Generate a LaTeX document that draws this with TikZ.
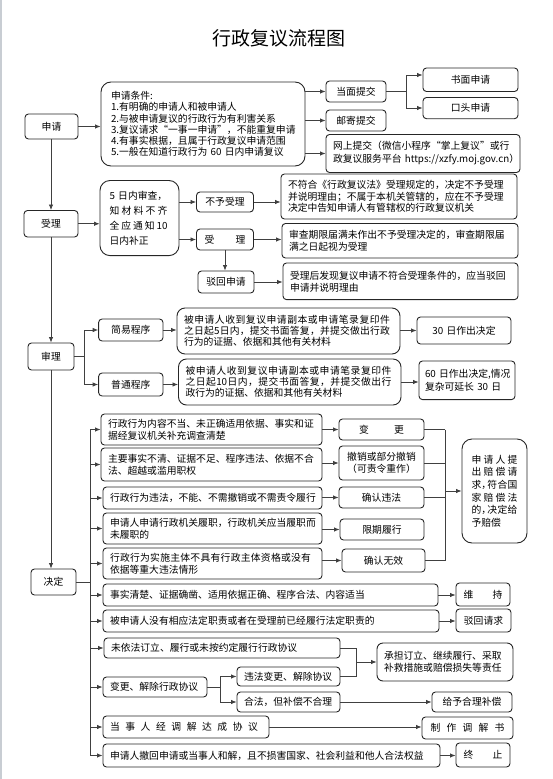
\documentclass[tikz,border=0pt]{standalone}
\usepackage{fontspec}
\setmainfont{Noto Sans CJK SC}
\setsansfont{Noto Sans CJK SC}
\usetikzlibrary{arrows.meta}
\definecolor{edgegray}{RGB}{200,205,211}
\def\jstx#1{#1\futurelet\jstnext\jsty}
\def\jsty{\ifx\jstnext\relax\else\hskip0pt plus 1fil\expandafter\jstx\fi}
\newcommand\jst[2]{\makebox[#1][s]{\jstx#2\relax}}
\newcommand\bx[7][]{%
  \pgfmathsetmacro\bxw{#5-#3}%
  \pgfmathsetmacro\bxh{#6-#4}%
  \pgfmathsetmacro\bxt{#5-#3-14}%
  \node[bx,minimum width=\bxw pt,minimum height=\bxh pt,text width=\bxt pt,#1] (#2) at ({(#3+#5)/2},{(#4+#6)/2}) {#7};}
\tikzset{
  bx/.style={draw=black!85, line width=0.9pt, rounded corners=3.5pt, inner xsep=7pt, inner ysep=1pt,
    align=left, font=\fontsize{9.8}{12}\selectfont},
  ctr/.style={align=center},
  ln/.style={draw=black!75, line width=0.8pt},
  arr/.style={ln, -{Latex[length=5.5pt,width=4.5pt]}},
}
\begin{document}
\begin{tikzpicture}[x=1pt,y=-1pt]
\useasboundingbox (0,0) rectangle (552,779);
\fill[edgegray] (0,0) rectangle (1.8,779);
\node[font=\fontsize{19}{22}\selectfont] (title) at (279,38) {行政复议流程图};

% ---------- 申请 ----------
\bx[ctr]{sq}{25}{114}{78}{139}{申请}
\bx[rounded corners=10pt,inner xsep=10pt,text width=184pt,font=\fontsize{9.8}{11.3}\selectfont]{cond}{101}{82}{305}{166}{申请条件:\\1.有明确的申请人和被申请人\\2.与被申请复议的行政行为有利害关系\\3.复议请求“一事一申请”，不能重复申请\\4.有事实根据，且属于行政复议申请范围\\5.一般在知道行政行为 60 日内申请复议}
\bx[ctr]{dm}{326}{81}{386}{102}{当面提交}
\bx[ctr]{yj}{326}{110}{386}{131}{邮寄提交}
\bx[inner xsep=7pt,text width=180pt,font=\fontsize{9.8}{13}\selectfont]{ws}{326}{134.5}{520}{172.5}{\mbox{网上提交（微信小程序“掌上复议”或行}\\\mbox{政复议服务平台~https://xzfy.moj.gov.cn）}}
\bx[ctr]{sm}{423}{68}{518}{91.5}{书面申请}
\bx[ctr]{kt}{423}{97.5}{518}{118.7}{口头申请}
\coordinate (j1) at (406,75);
\coordinate (j2) at (406,108);
\draw[arr] (sq.east) -- (sq.east -| cond.west);
\draw[arr] (cond.east |- dm.west) -- (dm.west);
\draw[arr] (cond.east |- yj.west) -- (yj.west);
\draw[arr] (cond.east |- ws.west) -- (ws.west);
\draw[ln] (dm.east) -- (dm.east -| j1);
\draw[ln] (j1) -- (j2);
\draw[arr] (j1) -- (j1 -| sm.west);
\draw[arr] (j2) -- (j2 -| kt.west);

% ---------- 受理 ----------
\bx[ctr]{sl}{24}{210.5}{78}{237}{受理}
\bx[rounded corners=10pt,inner xsep=0pt,text width=60pt,font=\fontsize{9.8}{15}\selectfont]{sc}{100}{180.5}{179}{255.6}{5 日内审查，\\\jst{58pt}{知材料不齐}\\\jst{58pt}{全应通知 {10}}\\日内补正}
\bx[ctr]{byl}{196.5}{192}{253.5}{212}{不予受理}
\bx[ctr]{slb}{196.5}{229}{253.5}{250}{\jst{41pt}{受理}}
\bx[ctr]{bh}{198}{271}{254}{293}{驳回申请}
\bx[font=\fontsize{9.8}{11.7}\selectfont]{t1}{281}{174}{517}{219}{不符合《行政复议法》受理规定的，决定不予受理\\并说明理由；不属于本机关管辖的，应在不予受理\\决定中告知申请人有管辖权的行政复议机关}
\bx{t2}{282}{223.5}{518}{258}{审查期限届满未作出不予受理决定的，审查期限届\\满之日起视为受理}
\bx{t3}{283}{263}{518}{299.6}{受理后发现复议申请不符合受理条件的，应当驳回\\申请并说明理由}
\draw[arr] (sl.north |- sq.south) -- (sl.north);
\draw[arr] (sl.east) -- (sl.east -| sc.west);
\draw[arr] (sc.east |- byl.west) -- (byl.west);
\draw[arr] (sc.east |- slb.west) -- (slb.west);
\draw[arr] (slb.south) -- (slb.south |- bh.north);
\draw[arr] (byl.east) -- (byl.east -| t1.west);
\draw[arr] (slb.east) -- (slb.east -| t2.west);
\draw[arr] (bh.east) -- (bh.east -| t3.west);

% ---------- 审理 ----------
\bx[ctr]{shl}{28}{343}{74}{370}{审理}
\bx[ctr]{jy}{98.6}{319}{163}{341}{简易程序}
\bx[ctr]{pt}{98.6}{373}{163}{396}{普通程序}
\bx[rounded corners=8pt,font=\fontsize{9.8}{11.2}\selectfont]{jyt}{177}{308}{400}{354}{\jst{206pt}{被申请人收到复议申请副本或申请笔录复印件}\\\jst{206pt}{之日起 5 日内，提交书面答复，并提交做出行政}\\行为的证据、依据和其他有关材料}
\bx[rounded corners=8pt,font=\fontsize{9.8}{11.2}\selectfont]{ptt}{178.5}{359}{401}{405}{\jst{206pt}{被申请人收到复议申请副本或申请笔录复印件}\\\jst{206pt}{之日起 {10} 日内，提交书面答复，并提交做出行}\\政行为的证据、依据和其他有关材料}
\bx[ctr]{d30}{417}{317}{511}{344}{30 日作出决定}
\bx[inner xsep=6pt,text width=84pt,font=\fontsize{9.8}{13}\selectfont]{d60}{419}{361}{515}{399.6}{\mbox{60~日作出决定,情况}\\\mbox{复杂可延长~30~日}}
\coordinate (b1) at (84.5,356.5);
\draw[arr] (shl.north |- sl.south) -- (shl.north);
\draw[ln] (shl.east) -- (shl.east -| b1);
\draw[arr] (b1) |- (jy.west);
\draw[arr] (b1) |- (pt.west);
\draw[arr] (jy.east) -- (jy.east -| jyt.west);
\draw[arr] (jyt.east |- d30.west) -- (d30.west);
\draw[arr] (pt.east) -- (pt.east -| ptt.west);
\draw[arr] (ptt.east) -- (ptt.east -| d60.west);

% ---------- 决定 ----------
\bx[ctr]{jd}{31}{569}{76}{595}{决定}
\draw[arr] (shl.south) -- (shl.south |- jd.north);
\bx{r1}{101}{414}{322}{445}{行政行为内容不当、未正确适用依据、事实和证\\据经复议机关补充调查清楚}
\bx{r2}{101}{448}{322}{481}{主要事实不清、证据不足、程序违法、依据不合\\法、超越或滥用职权}
\bx{r3}{103}{487}{322}{509}{行政行为违法，不能、不需撤销或不需责令履行}
\bx{r4}{103}{513}{322}{544}{申请人申请行政机关履职，行政机关应当履职而\\未履职的}
\bx{r5}{103}{548}{322}{579}{\jst{201pt}{行政行为实施主体不具有行政主体资格或没有}\\依据等重大违法情形}
\bx[ctr]{v1}{339}{419}{424}{440}{\jst{45pt}{变更}}
\bx[ctr]{v2}{339}{446}{424}{480}{撤销或部分撤销\\（可责令重作）}
\bx[ctr]{v3}{339}{487}{424}{508}{确认违法}
\bx[ctr]{v4}{340}{519}{424}{540}{限期履行}
\bx[ctr]{v5}{342}{549}{425}{572}{确认无效}
\bx[rounded corners=10pt,inner xsep=0pt,text width=46pt,font=\fontsize{9.8}{12.6}\selectfont]{pc}{462}{439}{527}{543}{\jst{46pt}{申请人提}\\\jst{46pt}{出赔偿请}\\\jst{46pt}{{求，\kern-4pt}符合国}\\\jst{46pt}{家赔偿法}\\\jst{46pt}{{的，\kern-4pt}决定给}\\予赔偿}

\bx{r6}{103}{584}{438}{606}{事实清楚、证据确凿、适用依据正确、程序合法、内容适当}
\bx[ctr]{wc}{456}{583}{510}{606}{\jst{39pt}{维持}}
\bx{r7}{103}{610}{439}{632}{被申请人没有相应法定职责或者在受理前已经履行法定职责的}
\bx[ctr]{bq}{456}{609}{511}{632}{驳回请求}
\bx{r8}{104}{638}{340}{658}{\jst{184pt}{未依法订立、履行或未按约定履行行政协议}}
\bx{r9}{103}{677}{207}{697}{变更、解除行政协议}
\bx{wf}{237}{667}{340}{686}{违法变更、解除协议}
\bx{hf}{237}{692}{340}{712}{合法，但补偿不合理}
\bx[rounded corners=6pt]{cd}{377}{643}{513}{681}{承担订立、继续履行、采取\\补救措施或赔偿损失等责任}
\bx[ctr]{gy}{432}{692}{512}{712}{给予合理补偿}
\bx{r10}{103}{716}{269}{738}{\jst{148pt}{当事人经调解达成协议}}
\bx[ctr]{zz}{422}{717}{513}{739}{\jst{74pt}{制作调解书}}
\bx{r11}{103}{744}{440}{767}{申请人撤回申请或当事人和解，且不损害国家、社会利益和他人合法权益}
\bx[ctr]{zj}{456}{743}{510}{767}{\jst{39pt}{终止}}

% left bracket of 决定
\coordinate (bvt) at (90,429.5);
\coordinate (bvb) at (90,755.5);
\draw[ln] (jd.east) -- (jd.east -| bvt);
\draw[ln] (bvt) -- (bvb);
\foreach \r in {r1,r2,r3,r4,r5,r6,r7,r8,r9,r10,r11}
  \draw[arr] (bvt |- \r.west) -- (\r.west);
% results
\draw[arr] (r1.east |- v1.west) -- (v1.west);
\draw[arr] (r2.east |- v2.west) -- (v2.west);
\draw[arr] (r3.east |- v3.west) -- (v3.west);
\draw[arr] (r4.east |- v4.west) -- (v4.west);
\draw[arr] (r5.east |- v5.west) -- (v5.west);
\coordinate (rbt) at (445,429.5);
\draw[ln] (v1.east) -- (v1.east -| rbt);
\draw[ln] (v2.east) -- (v2.east -| rbt);
\draw[ln] (v3.east) -- (v3.east -| rbt);
\draw[ln] (v5.east) -- (v5.east -| rbt);
\draw[ln] (v1.east -| rbt) -- (v5.east -| rbt);
\draw[arr] (rbt |- pc.west) -- (pc.west);
% lower results
\draw[arr] (r6.east) -- (r6.east -| wc.west);
\draw[arr] (r7.east) -- (r7.east -| bq.west);
\coordinate (cb) at (356,662);
\draw[ln] (r8.east) -| (cb);
\draw[ln] (wf.east) -| (cb);
\draw[arr] (cb) -- (cb -| cd.west);
\coordinate (db) at (220,687);
\draw[ln] (r9.east) -- (db);
\draw[arr] (db) |- (wf.west);
\draw[arr] (db) |- (hf.west);
\draw[arr] (hf.east) -- (hf.east -| gy.west);
\draw[arr] (r10.east) -- (r10.east -| zz.west);
\draw[arr] (r11.east) -- (r11.east -| zj.west);
\end{tikzpicture}
\end{document}
